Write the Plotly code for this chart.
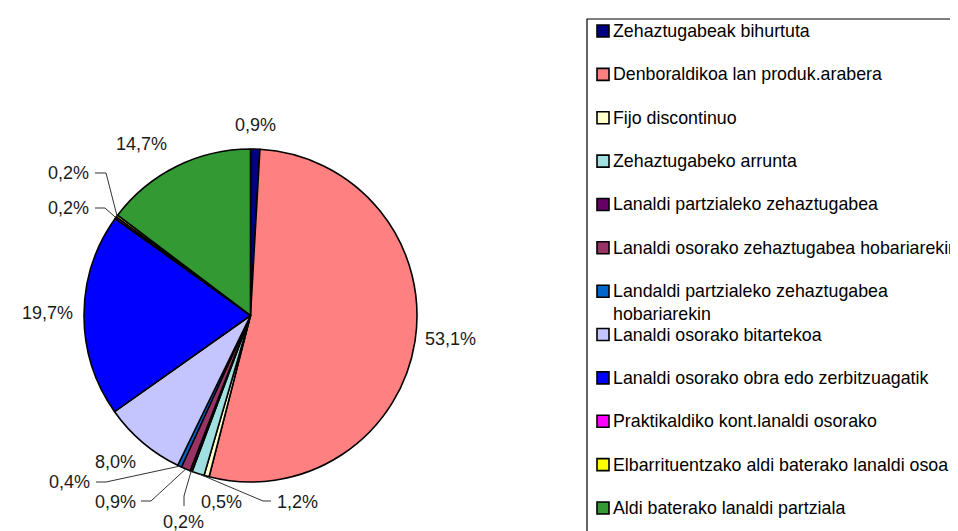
import math
import plotly.graph_objects as go

# ---- data ----
categories = [
    "Zehaztugabeak bihurtuta",
    "Denboraldikoa lan produk.arabera",
    "Fijo discontinuo",
    "Zehaztugabeko arrunta",
    "Lanaldi partzialeko zehaztugabea",
    "Lanaldi osorako zehaztugabea hobariarekin",
    "Landaldi partzialeko zehaztugabea hobariarekin",
    "Lanaldi osorako bitartekoa",
    "Lanaldi osorako obra edo zerbitzuagatik",
    "Praktikaldiko kont.lanaldi osorako",
    "Elbarrituentzako aldi baterako lanaldi osoa",
    "Aldi baterako lanaldi partziala",
]
legend_text = [
    "Zehaztugabeak bihurtuta",
    "Denboraldikoa lan produk.arabera",
    "Fijo discontinuo",
    "Zehaztugabeko arrunta",
    "Lanaldi partzialeko zehaztugabea",
    "Lanaldi osorako zehaztugabea hobariarekin",
    "Landaldi partzialeko zehaztugabea<br>hobariarekin",
    "Lanaldi osorako bitartekoa",
    "Lanaldi osorako obra edo zerbitzuagatik",
    "Praktikaldiko kont.lanaldi osorako",
    "Elbarrituentzako aldi baterako lanaldi osoa",
    "Aldi baterako lanaldi partziala",
]
values = [0.9, 53.1, 0.5, 1.2, 0.2, 0.9, 0.4, 8.0, 19.7, 0.2, 0.2, 14.7]

# ---- styles / layout ----
colors = ["#000080", "#FF8080", "#FFFFCC", "#A0E0E0", "#660066", "#993366",
          "#0066CC", "#C4C4FF", "#0000FF", "#FF00FF", "#FFFF00", "#339933"]
W, H = 958, 531
CX, CY, R = 242.5, 307.5, 166.5
FONT = "Arial, Liberation Sans, sans-serif"
FS_LABEL = 18
FS_LEGEND = 17.8

# label centres (px)
label_pos = [(247.5, 117), (442, 331), (213, 494), (289, 494), (175, 514),
             (107, 494), (62, 474), (107, 454), (39, 305), (60, 200),
             (60, 165), (133, 136)]
# leader lines: elbow and end points (px)
leaders = {
    3: [(255, 493), (263, 493)],
    4: [(176, 488), (176, 498)],
    5: [(143, 493), (133, 493)],
    6: [(98, 474), (88, 474)],
    9: [(97, 200), (87, 200)],
    10: [(98, 165), (87, 165)],
}

def px(x):
    return x / W

def py(y):
    return 1 - y / H

fig = go.Figure()
fig.add_trace(go.Pie(
    labels=categories,
    values=values,
    sort=False,
    direction="clockwise",
    rotation=0,
    textinfo="none",
    marker=dict(colors=colors, line=dict(color="black", width=1.6)),
    domain=dict(x=[px(CX - R), px(CX + R)], y=[py(CY + R), py(CY - R)]),
    showlegend=False,
))

annotations = []
shapes = []
total = sum(values)
cum = 0.0
for i, v in enumerate(values):
    mid = (cum + v / 2) / total * 2 * math.pi
    cum += v
    lx, ly = label_pos[i]
    annotations.append(dict(
        x=px(lx), y=py(ly), xref="paper", yref="paper",
        text=f"{v:.1f}".replace(".", ",") + "%",
        showarrow=False, xanchor="center", yanchor="middle",
        font=dict(family=FONT, size=FS_LABEL, color="#1a1a1a"),
    ))
    if i in leaders:
        sx = CX + R * math.sin(mid)
        sy = CY - R * math.cos(mid)
        pts = [(sx, sy)] + leaders[i]
        path = "M " + " L ".join(f"{px(a):.5f},{py(b):.5f}" for a, b in pts)
        shapes.append(dict(type="path", path=path, xref="paper", yref="paper",
                           line=dict(color="#333333", width=1)))

# legend box
shapes.append(dict(type="rect", xref="paper", yref="paper",
                   x0=px(579), x1=px(1000), y0=py(600), y1=py(11),
                   line=dict(color="black", width=1.2), fillcolor="rgba(0,0,0,0)"))
slot0, step = 23, (500 - 23) / 11
for i, name in enumerate(legend_text):
    yc = slot0 + step * i
    shapes.append(dict(type="rect", xref="paper", yref="paper",
                       x0=px(589), x1=px(601), y0=py(yc + 6), y1=py(yc - 6),
                       line=dict(color="black", width=1.6), fillcolor=colors[i]))
    multi = "<br>" in name
    annotations.append(dict(
        x=px(603), y=py(yc - 12 if multi else yc), xref="paper", yref="paper",
        text=name, showarrow=False, xanchor="left",
        yanchor="top" if multi else "middle", align="left",
        font=dict(family=FONT, size=FS_LEGEND, color="black"),
    ))

fig.update_layout(
    width=W, height=H, autosize=False,
    margin=dict(l=0, r=0, t=0, b=0),
    paper_bgcolor="white", plot_bgcolor="white",
    annotations=annotations, shapes=shapes,
)
fig.write_html("out.html")
